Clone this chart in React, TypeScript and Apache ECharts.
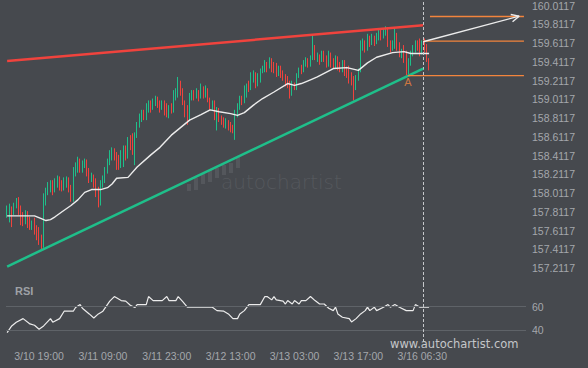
import React, { useEffect, useRef } from "react";
import * as echarts from "echarts";

// ---- price bars (30-minute candles, index 0 = first bar) ----
const OPENS = [
  157.78, 157.83, 157.85, 157.80, 157.88, 157.94, 157.79, 157.75, 157.70, 157.81,
  157.68, 157.64, 157.71, 157.59, 157.54, 157.49, 157.45, 157.94, 158.04, 158.10,
  158.12, 158.04, 158.13, 158.17, 158.09, 158.05, 158.09, 158.17, 158.04, 157.94,
  158.23, 158.31, 158.36, 158.28, 158.33, 158.36, 158.23, 158.15, 158.20, 158.09,
  158.02, 157.91, 158.10, 158.17, 158.26, 158.34, 158.43, 158.47, 158.40, 158.31,
  158.29, 158.42, 158.49, 158.41, 158.60, 158.49, 158.45, 158.64, 158.74, 158.82,
  158.86, 158.81, 158.94, 158.98, 158.92, 158.99, 159.02, 158.96, 158.92, 158.98,
  158.88, 158.84, 158.93, 158.90, 159.07, 159.11, 159.19, 159.09, 158.98, 158.86,
  158.81, 159.03, 159.09, 159.04, 159.10, 159.03, 159.14, 159.05, 159.13, 159.01,
  158.93, 158.98, 158.85, 158.90, 158.81, 158.78, 158.75, 158.79, 158.71, 158.69,
  158.67, 158.87, 158.94, 159.02, 158.98, 159.13, 159.16, 159.13, 159.27, 159.29,
  159.17, 159.21, 159.32, 159.35, 159.40, 159.34, 159.43, 159.36, 159.32, 159.28,
  159.34, 159.27, 159.24, 159.18, 159.16, 159.11, 159.17, 159.14, 159.26, 159.32,
  159.31, 159.40, 159.43, 159.38, 159.45, 159.59, 159.46, 159.49, 159.43, 159.51,
  159.45, 159.38, 159.48, 159.40, 159.36, 159.45, 159.35, 159.32, 159.41, 159.30,
  159.29, 159.24, 159.19, 159.15, 159.24, 159.31, 159.59, 159.62, 159.55, 159.67,
  159.61, 159.68, 159.62, 159.69, 159.71, 159.68, 159.74, 159.76, 159.60, 159.55,
  159.61, 159.72, 159.58, 159.49, 159.53, 159.43, 159.32, 159.42, 159.50, 159.55,
  159.61, 159.58, 159.51, 159.60, 159.55, 159.45,
];
const CLOSES = [
  157.83, 157.85, 157.80, 157.88, 157.94, 157.79, 157.75, 157.70, 157.81, 157.68,
  157.64, 157.71, 157.59, 157.54, 157.49, 157.45, 157.94, 158.04, 158.10, 158.12,
  158.04, 158.13, 158.17, 158.09, 158.05, 158.09, 158.17, 158.04, 157.94, 158.23,
  158.31, 158.36, 158.28, 158.33, 158.36, 158.23, 158.15, 158.20, 158.09, 158.02,
  157.91, 158.10, 158.17, 158.26, 158.34, 158.43, 158.47, 158.40, 158.31, 158.29,
  158.42, 158.49, 158.41, 158.60, 158.49, 158.45, 158.64, 158.74, 158.82, 158.86,
  158.81, 158.94, 158.98, 158.92, 158.99, 159.02, 158.96, 158.92, 158.98, 158.88,
  158.84, 158.93, 158.90, 159.07, 159.11, 159.19, 159.09, 158.98, 158.86, 158.81,
  159.03, 159.09, 159.04, 159.10, 159.03, 159.14, 159.05, 159.13, 159.01, 158.93,
  158.98, 158.85, 158.90, 158.81, 158.78, 158.75, 158.79, 158.71, 158.69, 158.67,
  158.87, 158.94, 159.02, 158.98, 159.13, 159.16, 159.13, 159.27, 159.29, 159.17,
  159.21, 159.32, 159.35, 159.40, 159.34, 159.43, 159.36, 159.32, 159.28, 159.34,
  159.27, 159.24, 159.18, 159.16, 159.11, 159.17, 159.14, 159.26, 159.32, 159.31,
  159.40, 159.43, 159.38, 159.45, 159.59, 159.46, 159.49, 159.43, 159.51, 159.45,
  159.38, 159.48, 159.40, 159.36, 159.45, 159.35, 159.32, 159.41, 159.30, 159.29,
  159.24, 159.19, 159.15, 159.24, 159.31, 159.59, 159.62, 159.55, 159.67, 159.61,
  159.68, 159.62, 159.69, 159.71, 159.68, 159.74, 159.76, 159.60, 159.55, 159.61,
  159.72, 159.58, 159.49, 159.53, 159.43, 159.32, 159.42, 159.50, 159.55, 159.61,
  159.58, 159.51, 159.60, 159.55, 159.45, 159.36,
];
const LOWS = [
  157.75, 157.70, 157.65, 157.78, 157.85, 157.78, 157.67, 157.66, 157.68, 157.64,
  157.62, 157.62, 157.57, 157.51, 157.46, 157.41, 157.43, 157.88, 157.99, 158.02,
  157.99, 158.02, 158.07, 158.04, 158.03, 158.04, 158.07, 158.02, 157.92, 157.92,
  158.19, 158.23, 158.23, 158.23, 158.28, 158.19, 158.12, 158.13, 158.07, 157.97,
  157.86, 157.88, 158.07, 158.12, 158.22, 158.31, 158.36, 158.36, 158.26, 158.26,
  158.28, 158.29, 158.36, 158.38, 158.47, 158.42, 158.31, 158.60, 158.71, 158.77,
  158.79, 158.79, 158.87, 158.87, 158.90, 158.94, 158.92, 158.87, 158.90, 158.84,
  158.82, 158.81, 158.86, 158.87, 159.00, 159.03, 159.05, 158.95, 158.82, 158.74,
  158.79, 159.00, 159.00, 159.02, 158.99, 159.02, 159.02, 159.03, 158.98, 158.90,
  158.90, 158.79, 158.68, 158.77, 158.74, 158.71, 158.70, 158.68, 158.66, 158.65,
  158.58, 158.82, 158.90, 158.95, 158.97, 159.03, 159.09, 159.11, 159.19, 159.13,
  159.15, 159.19, 159.29, 159.30, 159.30, 159.34, 159.30, 159.29, 159.25, 159.26,
  159.24, 159.21, 159.15, 159.13, 159.02, 159.05, 159.11, 159.11, 159.24, 159.28,
  159.30, 159.36, 159.35, 159.36, 159.43, 159.43, 159.41, 159.38, 159.41, 159.41,
  159.35, 159.36, 159.35, 159.34, 159.34, 159.32, 159.30, 159.30, 159.26, 159.24,
  159.18, 159.16, 159.00, 159.11, 159.21, 159.30, 159.53, 159.51, 159.53, 159.57,
  159.59, 159.58, 159.60, 159.64, 159.64, 159.66, 159.69, 159.57, 159.51, 159.53,
  159.55, 159.53, 159.46, 159.45, 159.40, 159.27, 159.28, 159.37, 159.47, 159.51,
  159.53, 159.47, 159.49, 159.51, 159.41, 159.32,
];
const HIGHS = [
  157.88, 157.90, 157.87, 157.91, 157.96, 157.97, 157.88, 157.81, 157.83, 157.82,
  157.76, 157.72, 157.75, 157.67, 157.65, 157.57, 158.01, 158.07, 158.13, 158.15,
  158.15, 158.17, 158.20, 158.19, 158.15, 158.18, 158.19, 158.18, 158.10, 158.29,
  158.34, 158.40, 158.38, 158.36, 158.38, 158.37, 158.28, 158.23, 158.21, 158.17,
  158.08, 158.15, 158.20, 158.29, 158.38, 158.47, 158.50, 158.49, 158.45, 158.42,
  158.47, 158.52, 158.52, 158.61, 158.63, 158.65, 158.66, 158.77, 158.86, 158.90,
  158.90, 158.97, 159.00, 159.00, 159.02, 159.05, 159.04, 159.00, 159.00, 159.00,
  158.97, 158.95, 158.97, 159.11, 159.13, 159.25, 159.21, 159.13, 159.00, 158.95,
  159.08, 159.11, 159.11, 159.13, 159.11, 159.18, 159.15, 159.16, 159.13, 159.03,
  159.00, 159.00, 158.93, 158.92, 158.84, 158.82, 158.81, 158.79, 158.77, 158.74,
  158.90, 158.97, 159.05, 159.05, 159.16, 159.18, 159.21, 159.30, 159.32, 159.30,
  159.29, 159.34, 159.37, 159.43, 159.41, 159.46, 159.45, 159.41, 159.40, 159.37,
  159.37, 159.32, 159.28, 159.26, 159.21, 159.21, 159.19, 159.29, 159.35, 159.38,
  159.43, 159.46, 159.45, 159.48, 159.69, 159.59, 159.51, 159.49, 159.53, 159.53,
  159.48, 159.53, 159.51, 159.45, 159.48, 159.47, 159.41, 159.43, 159.43, 159.36,
  159.37, 159.30, 159.26, 159.27, 159.34, 159.64, 159.66, 159.64, 159.71, 159.69,
  159.71, 159.69, 159.72, 159.75, 159.75, 159.77, 159.79, 159.78, 159.64, 159.64,
  159.77, 159.72, 159.62, 159.55, 159.59, 159.53, 159.45, 159.53, 159.59, 159.64,
  159.64, 159.66, 159.64, 159.66, 159.60, 159.45,
];

// moving average: [bar index, price]
const MA_POINTS = [
  [0, 157.77], [6, 157.77], [12, 157.77], [15, 157.74], [17, 157.72], [19, 157.73],
  [21, 157.76], [25, 157.83], [28, 157.88], [31, 157.94], [34, 158.02], [37, 158.05],
  [41, 158.05], [44, 158.07], [46, 158.11], [48, 158.17], [53, 158.18], [57, 158.29],
  [63, 158.42], [67, 158.50], [72, 158.63], [76, 158.71], [80, 158.79], [85, 158.85],
  [89, 158.90], [93, 158.88], [98, 158.86], [101, 158.84], [104, 158.87], [108, 158.95],
  [112, 159.02], [117, 159.09], [123, 159.18], [126, 159.16], [129, 159.18], [133, 159.22],
  [136, 159.25], [143, 159.34], [149, 159.35], [154, 159.32], [158, 159.40], [162, 159.46],
  [169, 159.51], [174, 159.52], [177, 159.50], [181, 159.50], [185, 159.50],
];

// RSI: [bar index, value]
const RSI_POINTS = [
  [0, 38], [2, 43.6], [4, 46.8], [7, 49.8], [10, 45.3], [12, 44.2], [14, 40.8], [16, 43.6],
  [19, 49.8], [20, 46.8], [23, 49.8], [25, 56.1], [29, 56.1], [30, 59.2], [32, 61.7], [33, 58.6],
  [36, 53.8], [38, 50.4], [40, 53.8], [42, 56.1], [45, 64.6], [47, 68.5], [50, 65.1], [52, 64.6],
  [54, 61.2], [56, 59.2], [57, 61.7], [61, 61.7], [62, 68.5], [64, 65.1], [68, 65.1], [70, 68.5],
  [71, 65.1], [74, 65.1], [75, 68.5], [77, 64.2], [79, 59.5], [90, 59.5], [92, 56.6], [95, 56.1],
  [97, 53.8], [99, 49.8], [101, 49.8], [102, 53.8], [104, 56.6], [106, 61.7], [111, 61.7],
  [113, 68.5], [114, 68.5], [116, 65.7], [117, 68.5], [118, 65.7], [121, 64.6], [122, 62.2],
  [123, 65.1], [125, 62.2], [126, 65.1], [128, 62.2], [129, 65.1], [131, 65.1], [133, 68.5],
  [135, 65.1], [137, 62.2], [139, 62.2], [141, 58.6], [143, 56.6], [144, 59.5], [145, 53.8],
  [147, 51], [150, 49.8], [151, 47], [153, 49.8], [155, 53.8], [157, 56.6], [158, 59.5],
  [159, 56.6], [161, 59.5], [162, 56.6], [165, 59.5], [167, 61.7], [168, 59.5], [170, 61.7],
  [172, 59.5], [175, 56.6], [178, 56.6], [179, 61.7], [181, 59.5], [185, 59.5],
];

// pattern annotations: [bar index, price]
const RESISTANCE = [[0, 159.42], [182.4, 159.80]];
const SUPPORT = [[0, 157.23], [182.4, 159.34]];
const TARGET_LEVEL = [[185.4, 159.895], [226.6, 159.895]];
const BREAK_LEVEL = [[182.4, 159.632], [226.6, 159.632]];
const POINT_A_LEVEL = [[175.7, 159.264], [226.6, 159.264]];
const FORECAST_ARROW = [[182.4, 159.625], [224.5, 159.898]];
const ARROW_HEAD = [[220.8, 159.916], [224.5, 159.898], [221.6, 159.838]];
const POINT_A = [175.7, 159.264];
const PATTERN_END_BAR = 182.4;

const PRICE_TICKS = [
  157.2117, 157.4117, 157.6117, 157.8117, 158.0117, 158.2117, 158.4117, 158.6117,
  158.8117, 159.0117, 159.2117, 159.4117, 159.6117, 159.8117, 160.0117,
];
const RSI_TICKS = [40, 60];
const RSI_LEVELS = [60, 40];
const X_LABELS = [
  "3/10 19:00", "3/11 09:00", "3/11 23:00", "3/12 13:00", "3/13 03:00", "3/13 17:00", "3/16 06:30",
];
const FIRST_LABEL_BAR = 14;
const LABEL_STEP = 28;
const TOTAL_SLOTS = 228;

const BG = "#46494e";
const LABEL = "#a4a7ac";
const GREEN = "#1fbf8a";
const RED = "#f0433d";
const ORANGE = "#f3853d";
const WHITE = "#ececec";
const FONT = "'Liberation Sans', Arial, sans-serif";

export default function App() {
  const ref = useRef<HTMLDivElement>(null);

  useEffect(() => {
    if (!ref.current) return;
    const chart = echarts.init(ref.current, null, { renderer: "svg" });
    const categories = Array.from({ length: TOTAL_SLOTS }, (_, i) => String(i));
    const candles = CLOSES.map((c, i) => [OPENS[i], c, LOWS[i], HIGHS[i]]);
    const isLabelBar = (i: number) =>
      i >= FIRST_LABEL_BAR &&
      (i - FIRST_LABEL_BAR) % LABEL_STEP === 0 &&
      (i - FIRST_LABEL_BAR) / LABEL_STEP < X_LABELS.length;

    const plainLine = (data: number[][], color: string, width: number, z = 3) => ({
      type: "line",
      xAxisIndex: 2,
      yAxisIndex: 0,
      data,
      symbol: "none",
      silent: true,
      z,
      lineStyle: { color, width },
    });

    const option: any = {
      animation: false,
      backgroundColor: BG,
      textStyle: { fontFamily: FONT },
      grid: [
        { left: 6, right: 62, top: 0, height: 285 },
        { left: 6, right: 62, top: 283, height: 59 },
      ],
      xAxis: [
        { type: "category", gridIndex: 0, data: categories, show: false },
        {
          type: "category",
          gridIndex: 1,
          data: categories,
          axisLine: { show: false },
          axisTick: { show: false },
          splitLine: { show: false },
          axisLabel: {
            interval: (i: number) => isLabelBar(i),
            formatter: (_v: string, i: number) =>
              isLabelBar(i) ? X_LABELS[(i - FIRST_LABEL_BAR) / LABEL_STEP] : "",
            color: LABEL,
            fontSize: 10.5,
            margin: 8,
            fontFamily: FONT,
          },
        },
        { type: "value", gridIndex: 0, min: -0.5, max: TOTAL_SLOTS - 0.5, show: false },
        { type: "value", gridIndex: 1, min: -0.5, max: TOTAL_SLOTS - 0.5, show: false },
      ],
      yAxis: [
        {
          type: "value",
          gridIndex: 0,
          position: "right",
          min: 157.033,
          max: 160.065,
          axisLine: { show: false },
          axisTick: { show: false },
          splitLine: { show: false },
          axisLabel: {
            customValues: PRICE_TICKS,
            formatter: (v: number) => v.toFixed(4),
            color: LABEL,
            fontSize: 10.5,
            margin: 6,
            fontFamily: FONT,
          },
        },
        {
          type: "value",
          gridIndex: 1,
          position: "right",
          min: 30,
          max: 80,
          axisLine: { show: false },
          axisTick: { show: false },
          splitLine: { show: false },
          axisLabel: {
            customValues: RSI_TICKS,
            color: LABEL,
            fontSize: 10.5,
            margin: 6,
            fontFamily: FONT,
          },
        },
      ],
      graphic: [
        {
          type: "rect", shape: { x: 187, y: 184, width: 4, height: 7 }, style: { fill: "#54575c" }, silent: true,
        },
        { type: "rect", shape: { x: 194, y: 178, width: 4, height: 12 }, style: { fill: "#54575c" }, silent: true },
        { type: "rect", shape: { x: 201, y: 174, width: 4, height: 10 }, style: { fill: "#54575c" }, silent: true },
        { type: "rect", shape: { x: 208, y: 170, width: 4, height: 12 }, style: { fill: "#54575c" }, silent: true },
        { type: "rect", shape: { x: 215, y: 168, width: 4, height: 10 }, style: { fill: "#54575c" }, silent: true },
        { type: "rect", shape: { x: 222, y: 165, width: 4, height: 10 }, style: { fill: "#54575c" }, silent: true },
        { type: "rect", shape: { x: 229, y: 163, width: 4, height: 10 }, style: { fill: "#54575c" }, silent: true },
        { type: "rect", shape: { x: 236, y: 157, width: 4, height: 11 }, style: { fill: "#54575c" }, silent: true },
        {
          type: "text",
          left: 221,
          top: 172,
          silent: true,
          style: { text: "autochartist", fill: "#55585d", font: "200 20px 'DejaVu Sans', sans-serif" },
        },
        {
          type: "text",
          left: 15,
          top: 285,
          silent: true,
          style: { text: "RSI", fill: "#9ea1a6", font: `bold 11px ${FONT}` },
        },
        {
          type: "text",
          left: 390,
          top: 338,
          silent: true,
          z: 10,
          style: { text: "www.autochartist.com", fill: "#c4c6c9", font: "11.5px 'DejaVu Sans', sans-serif" },
        },
      ],
      series: [
        {
          type: "candlestick",
          xAxisIndex: 0,
          yAxisIndex: 0,
          data: candles,
          barWidth: 1,
          silent: true,
          itemStyle: {
            color: GREEN,
            color0: RED,
            borderColor: GREEN,
            borderColor0: RED,
            borderWidth: 1,
          },
        },
        plainLine(MA_POINTS, WHITE, 1.4, 4),
        {
          ...plainLine(RESISTANCE, RED, 2.5, 5),
          markLine: {
            silent: true,
            symbol: ["none", "none"],
            label: { show: false },
            lineStyle: { color: "#c6c8cb", width: 1, type: [3, 2] },
            data: [{ xAxis: PATTERN_END_BAR }],
          },
        },
        plainLine(SUPPORT, GREEN, 2.5, 5),
        plainLine(TARGET_LEVEL, ORANGE, 1.4, 5),
        plainLine(BREAK_LEVEL, ORANGE, 1.4, 5),
        plainLine(POINT_A_LEVEL, ORANGE, 1.4, 5),
        plainLine(FORECAST_ARROW, WHITE, 1.4, 6),
        plainLine(ARROW_HEAD, WHITE, 1.4, 6),
        {
          type: "scatter",
          xAxisIndex: 2,
          yAxisIndex: 0,
          data: [POINT_A],
          symbolSize: 0,
          silent: true,
          label: {
            show: true,
            formatter: "A",
            position: "bottom",
            distance: 1,
            color: ORANGE,
            fontSize: 11,
            fontFamily: FONT,
          },
        },
        {
          type: "line",
          xAxisIndex: 3,
          yAxisIndex: 1,
          data: RSI_POINTS,
          symbol: "none",
          silent: true,
          z: 4,
          lineStyle: { color: WHITE, width: 1.2 },
          markLine: {
            silent: true,
            symbol: ["none", "none"],
            label: { show: false },
            data: [
              ...RSI_LEVELS.map((v) => ({ yAxis: v, lineStyle: { color: "#5f6368", width: 1, type: "solid" } })),
              { xAxis: PATTERN_END_BAR, lineStyle: { color: "#c6c8cb", width: 1, type: [3, 2] } },
            ],
          },
        },
      ],
    };

    chart.setOption(option);
    return () => chart.dispose();
  }, []);

  return (
    <div
      ref={ref}
      style={{ position: "fixed", left: 0, top: 0, width: 588, height: 368 }}
    />
  );
}
